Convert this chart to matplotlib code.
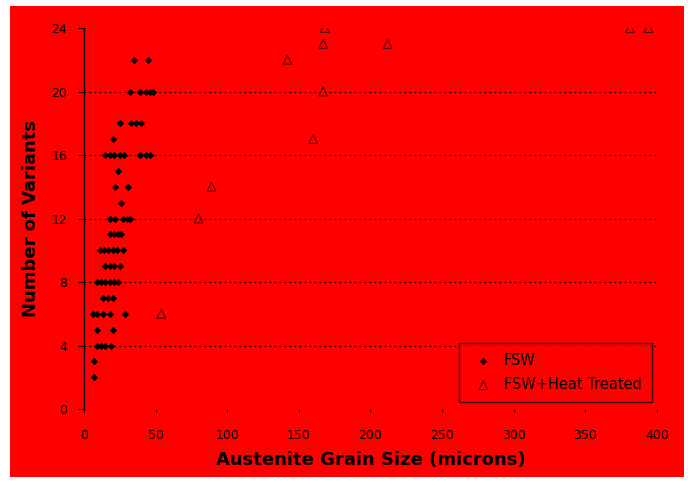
import matplotlib
matplotlib.use('Agg')
import matplotlib.pyplot as plt
from matplotlib.patches import Rectangle

# FSW samples: grain size (microns) and number of variants
fsw_size = [35, 45,
            32, 39, 43, 46, 48,
            25, 33, 36, 40,
            20,
            15, 18, 21, 25, 28, 39, 43, 46,
            24,
            22, 31,
            26,
            18, 22, 27, 30, 32,
            18, 21, 24, 26,
            11, 14, 17, 20, 23, 27,
            15, 18, 21, 25,
            9, 12, 15, 18, 21, 24,
            13, 17, 20,
            6, 9, 13, 18, 29,
            9, 20,
            9, 12, 15, 19,
            7,
            7]
fsw_var = [22, 22,
           20, 20, 20, 20, 20,
           18, 18, 18, 18,
           17,
           16, 16, 16, 16, 16, 16, 16, 16,
           15,
           14, 14,
           13,
           12, 12, 12, 12, 12,
           11, 11, 11, 11,
           10, 10, 10, 10, 10, 10,
           9, 9, 9, 9,
           8, 8, 8, 8, 8, 8,
           7, 7, 7,
           6, 6, 6, 6, 6,
           5, 5,
           4, 4, 4, 4,
           3,
           2]

# FSW + heat treated samples
ht_size = [142, 168, 167, 212, 167, 160, 89, 80, 54, 381, 394]
ht_var = [22, 24, 23, 23, 20, 17, 14, 12, 6, 24, 24]

x_ticks = [0, 50, 100, 150, 200, 250, 300, 350, 400]
y_ticks = [0, 4, 8, 12, 16, 20, 24]

fig = plt.figure(figsize=(6.88, 4.83), dpi=100, facecolor='white')
# red panel behind the whole chart
fig.patches.append(Rectangle((10 / 688, 6 / 483), 674 / 688, 471 / 483,
                             transform=fig.transFigure, facecolor='#ff0000',
                             edgecolor='none', zorder=-10))

ax = fig.add_axes([0.122, 0.153, 0.833, 0.789])
ax.set_facecolor('#ff0000')

ax.scatter(fsw_size, fsw_var, marker='D', s=14, color='black',
           linewidths=0, label='FSW', zorder=3)
ax.scatter(ht_size, ht_var, marker='^', s=40, facecolors='none',
           edgecolors='#3a0000', linewidths=0.7, label='FSW+Heat Treated', zorder=3)

ax.set_xlim(0, 400)
ax.set_ylim(0, 24)
ax.set_xticks(x_ticks)
ax.set_yticks(y_ticks)

# dotted horizontal grid
for y in y_ticks[1:-1]:
    ax.axhline(y, color='black', linestyle=(0, (1.5, 3)), linewidth=0.8, zorder=1)

for side in ['top', 'right', 'bottom']:
    ax.spines[side].set_visible(False)
ax.spines['left'].set_linewidth(1.0)
ax.tick_params(axis='y', direction='out', length=4, labelsize=9, pad=8)
ax.tick_params(axis='x', direction='out', length=2, labelsize=9, pad=12)

ax.set_xlabel('Austenite Grain Size (microns)', fontsize=13, fontweight='bold', labelpad=7)
ax.set_ylabel('Number of Variants', fontsize=13, fontweight='bold', labelpad=8)

leg = ax.legend(loc='lower right', bbox_to_anchor=(0.991, 0.018), fontsize=10.5,
                frameon=True, fancybox=False, handletextpad=0.4,
                borderpad=0.7, labelspacing=0.6, borderaxespad=0)
leg.get_frame().set_facecolor('#ff0000')
leg.get_frame().set_edgecolor('black')

fig.savefig('out.png', dpi=100, facecolor='white')
